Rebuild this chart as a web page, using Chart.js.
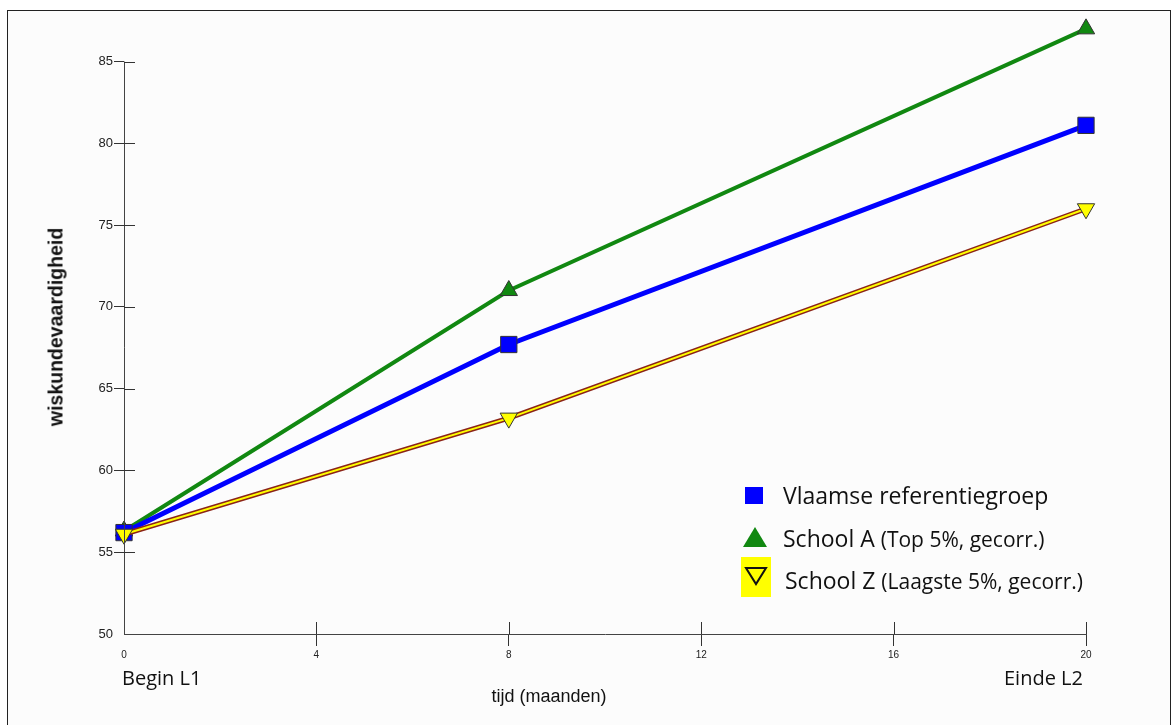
<!DOCTYPE html>
<html>
<head>
<meta charset="utf-8">
<script src="https://cdn.jsdelivr.net/npm/chart.js@4/dist/chart.umd.min.js"></script>
<style>
  html, body { margin: 0; padding: 0; background: #fff; }
  #wrap { position: relative; width: 1172px; height: 725px; overflow: hidden; }
  #frame { position: absolute; left: 7px; top: 10px; width: 1162px; height: 740px; border: 1px solid #222; background: #fcfcfc; }
  #chart { position: absolute; left: 0; top: 0; }
  .txt { position: absolute; white-space: nowrap; color: #111; }
  .lbl { font-family: "Open Sans", sans-serif; font-size: 20px; }
  .leg { font-family: "Open Sans", sans-serif; font-size: 23px; }
  .leg small { font-size: 21px; }
</style>
</head>
<body>
<div id="wrap">
  <div id="frame"></div>
  <canvas id="chart" width="1172" height="725"></canvas>

  <div class="txt" style="top:327px; left:56px; transform: translate(-50%,-50%) rotate(-90deg); font: bold 19.5px 'Liberation Sans', Arial, sans-serif;">wiskundevaardigheid</div>
  <div class="txt" style="left:549px; top:696px; transform: translate(-50%,-50%); font: 18px 'Liberation Sans', Arial, sans-serif;" id="xTitle"></div>
  <div class="txt lbl" id="startLbl" style="left:122px; top:664px;"></div>
  <div class="txt lbl" id="endLbl" style="left:1004px; top:664px;"></div>

  <div id="legend"></div>
</div>

<script>
// months on the x axis
const months = [0, 8, 20];
// series values (wiskundevaardigheid)
const vlaamse = [56.2, 67.7, 81.1];
const schoolA = [56.3, 71.0, 87.0];
const schoolZ = [56.1, 63.2, 76.0];
const seriesNames = ['Vlaamse referentiegroep', 'School A', 'School Z'];
const seriesNotes = ['', '(Top 5%, gecorr.)', '(Laagste 5%, gecorr.)'];
const endLabels = ['Begin L1', 'Einde L2'];
const xTitle = 'tijd (maanden)';
const yAxisTop = 85; // the axis line and ticks stop here, the data goes a bit higher

document.getElementById('xTitle').textContent = xTitle;
document.getElementById('startLbl').textContent = endLabels[0];
document.getElementById('endLbl').textContent = endLabels[1];

function pts(vals) {
  return months.map((m, i) => ({ x: m, y: vals[i] }));
}

// legend (html, sits inside the plot)
const legend = document.getElementById('legend');
const markers = [
  '<div style="position:absolute;left:745px;top:487px;width:18px;height:17px;background:#0000ff;"></div>',
  '<svg style="position:absolute;left:742px;top:526px" width="26" height="22"><polygon points="13,1 25,21 1,21" fill="#118811"/></svg>',
  '<div style="position:absolute;left:741px;top:557px;width:30px;height:40px;background:#ffff00;"></div>' +
  '<svg style="position:absolute;left:744px;top:566px" width="24" height="20"><polygon points="2,2 22,2 12,18" fill="none" stroke="#111" stroke-width="2"/></svg>'
];
const rowTops = [479, 522, 564];
const rowLeft = [783, 783, 785];
seriesNames.forEach((name, i) => {
  legend.insertAdjacentHTML('beforeend', markers[i]);
  const note = seriesNotes[i] ? ' <small>' + seriesNotes[i] + '</small>' : '';
  legend.insertAdjacentHTML('beforeend',
    `<div class="txt leg" style="left:${rowLeft[i]}px;top:${rowTops[i]}px;">${name}${note}</div>`);
});

// y axis line up to 85 only, and ticks that cross into the plot area
const axisBits = {
  id: 'axisBits',
  afterDatasetsDraw(chart) {
    const { ctx, chartArea, scales } = chart;
    ctx.save();
    ctx.strokeStyle = '#444';
    ctx.lineWidth = 1;
    const x0 = Math.round(chartArea.left) + 0.5;
    ctx.beginPath();
    ctx.moveTo(x0, scales.y.getPixelForValue(yAxisTop));
    ctx.lineTo(x0, scales.y.getPixelForValue(50));
    ctx.stroke();
    ctx.strokeStyle = '#333';
    scales.y.ticks.forEach(t => {
      if (t.value === 50) return;
      const py = Math.round(scales.y.getPixelForValue(t.value)) + 0.5;
      ctx.beginPath();
      ctx.moveTo(chartArea.left, py);
      ctx.lineTo(chartArea.left + 11, py);
      ctx.stroke();
    });
    scales.x.ticks.forEach(t => {
      if (t.value === 0) return;
      const px = Math.round(scales.x.getPixelForValue(t.value)) + 0.5;
      ctx.beginPath();
      ctx.moveTo(px, chartArea.bottom);
      ctx.lineTo(px, chartArea.bottom - 12);
      ctx.stroke();
    });
    ctx.restore();
  }
};

const ctx = document.getElementById('chart').getContext('2d');
new Chart(ctx, {
  type: 'line',
  data: {
    datasets: [
      {
        label: seriesNames[2],
        data: pts(schoolZ),
        borderColor: '#ffff00',
        borderWidth: 2,
        pointStyle: 'triangle',
        rotation: 180,
        pointRadius: 10,
        pointBackgroundColor: '#ffff00',
        pointBorderColor: '#333',
        pointBorderWidth: 1,
        order: 0
      },
      {
        label: 'outline',
        data: pts(schoolZ),
        borderColor: '#8b2418',
        borderWidth: 5,
        pointRadius: 0,
        order: 1
      },
      {
        label: seriesNames[0],
        data: pts(vlaamse),
        borderColor: '#0000ff',
        borderWidth: 5,
        pointStyle: 'rect',
        pointRadius: 11.5,
        pointBackgroundColor: '#0000ff',
        pointBorderColor: '#333',
        pointBorderWidth: 1,
        order: 2
      },
      {
        label: seriesNames[1],
        data: pts(schoolA),
        borderColor: '#118811',
        borderWidth: 4,
        pointStyle: 'triangle',
        pointRadius: 10,
        pointBackgroundColor: '#118811',
        pointBorderColor: '#333',
        pointBorderWidth: 1,
        order: 3
      }
    ]
  },
  options: {
    responsive: false,
    animation: false,
    layout: { padding: { top: 10.8, right: 86, left: 0, bottom: 0 } },
    elements: { line: { tension: 0 } },
    datasets: { line: { clip: false } },
    plugins: {
      legend: { display: false },
      tooltip: { enabled: false }
    },
    scales: {
      x: {
        type: 'linear',
        min: 0,
        max: 20,
        ticks: {
          stepSize: 4,
          padding: 3,
          color: '#222',
          font: { family: "'Liberation Sans Narrow', 'Liberation Sans', Arial", size: 10 }
        },
        grid: {
          drawOnChartArea: false,
          tickLength: 12,
          color: c => (c.tick && c.tick.value === 0 ? 'transparent' : '#333')
        },
        border: { color: '#444', width: 1 },
        afterFit: s => { s.height = 91; }
      },
      y: {
        min: 50,
        max: 88,
        afterBuildTicks: s => { s.ticks = s.ticks.filter(t => t.value <= yAxisTop); },
        ticks: {
          stepSize: 5,
          padding: 1,
          color: '#222',
          font: { family: "'Liberation Sans Narrow', 'Liberation Sans', Arial", size: 13 }
        },
        grid: {
          drawOnChartArea: false,
          tickLength: 10,
          color: c => (c.tick && c.tick.value === 50 ? 'transparent' : '#333')
        },
        border: { display: false },
        afterFit: s => { s.width = 124; }
      }
    }
  },
  plugins: [axisBits]
});
</script>
</body>
</html>
